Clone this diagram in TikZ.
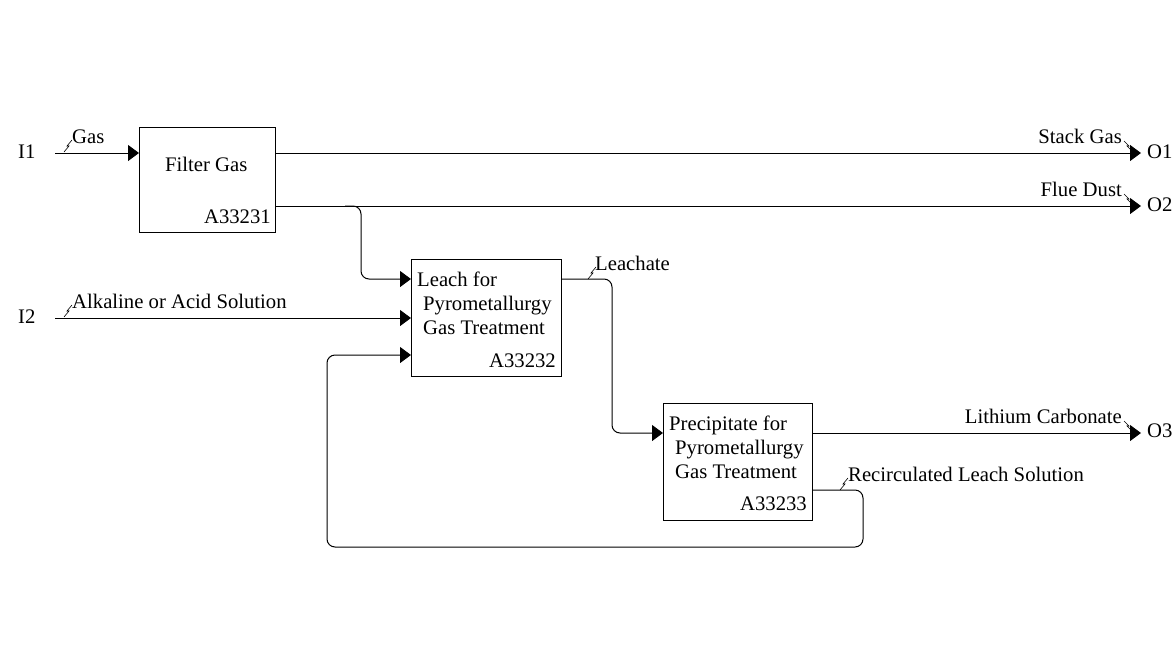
\documentclass[tikz,border=0pt]{standalone}
\usepackage{fontspec}
\setmainfont{Liberation Serif}
\usetikzlibrary{arrows.meta}

\begin{document}
\begin{tikzpicture}[x=1pt,y=-1pt]
        \tikzstyle{every node}=[font=\fontsize{20.7}{24}\selectfont,inner sep=0pt]
        \tikzstyle{box}=[draw,line width=1pt,anchor=north west]
        \tikzstyle{flow}=[line width=1pt,rounded corners=8pt,-{Triangle[length=11pt,width=16pt]}]
        \tikzstyle{squig}=[line width=0.6pt]
            \useasboundingbox (0,0) rectangle (1176,654);

            \node[box,minimum width=136pt,minimum height=105pt] (f) at (139,127) {};
            \node[box,minimum width=150pt,minimum height=117pt] (l) at (411,259) {};
            \node[box,minimum width=149pt,minimum height=117pt] (p) at (663,403) {};

            \coordinate (i1) at (55,153);
            \coordinate (i2) at (55,318);
            \coordinate (o1) at (1141,153);
            \coordinate (o2) at (1141,206);
            \coordinate (o3) at (1141,433);
            \coordinate (j) at (345,206);
            \coordinate (b1) at (361,279);
            \coordinate (b2) at (612,433);
            \coordinate (r) at (812,490);
            \coordinate (b3) at (863,547);
            \coordinate (b4) at (327,355);

            \draw[flow] (i1) -- (f.west |- i1);
            \draw[flow] (i2) -- (l.west |- i2);
            \draw[flow] (f.east |- o1) -- (o1);
            \draw[flow] (f.east |- o2) -- (o2);
            \draw[flow] (j) -| (b1) -- (l.west |- b1);
            \draw[flow] (l.east |- b1) -| (b2) -- (p.west |- b2);
            \draw[flow] (p.east |- o3) -- (o3);
            \draw[flow] (r) -| (b3) -| (b4) -- (l.west |- b4);

            % labels
            \node[anchor=base west] (ti1) at (18,158) {I1};
            \node[anchor=base west] (ti2) at (18,323) {I2};
            \node[anchor=base west] (to1) at (1147,158) {O1};
            \node[anchor=base west] (to2) at (1147,211) {O2};
            \node[anchor=base west] (to3) at (1147,437) {O3};
            \node[anchor=base west] (gas) at (72,143) {Gas};
            \node[anchor=base west] (sol) at (72,308) {Alkaline or Acid Solution};
            \node[anchor=base east] (stack) at (1122,143) {Stack Gas};
            \node[anchor=base east] (dust) at (1122,196) {Flue Dust};
            \node[anchor=base east] (li) at (1122,423) {Lithium Carbonate};
            \node[anchor=base west] (lea) at (595,270) {Leachate};
            \node[anchor=base west] (rec) at (848,481) {Recirculated Leach Solution};

            \node[anchor=base west] (f1) at (165,171) {Filter Gas};
            \node[anchor=base east] (f2) at (271,223) {A33231};
            \node[anchor=base west] (l1) at (417,286) {Leach for};
            \node[anchor=base west] (l2) at (423,310) {Pyrometallurgy};
            \node[anchor=base west] (l3) at (423,334) {Gas Treatment};
            \node[anchor=base east] (l4) at (556,367) {A33232};
            \node[anchor=base west] (p1) at (669,430) {Precipitate for};
            \node[anchor=base west] (p2) at (675,454) {Pyrometallurgy};
            \node[anchor=base west] (p3) at (675,478) {Gas Treatment};
            \node[anchor=base east] (p4) at (807,510) {A33233};

            \draw[squig] (64,152) -- (69,146) -- (67,146) -- (72,140)
            (64,317) -- (69,311) -- (67,311) -- (72,305)
            (588,279) -- (593,273) -- (591,273) -- (596,267)
            (840,490) -- (845,484) -- (843,484) -- (848,478)
            (1124,141) -- (1129,146) -- (1127,146) -- (1133,152)
            (1124,194) -- (1129,199) -- (1127,199) -- (1133,205)
            (1124,421) -- (1129,426) -- (1127,426) -- (1133,432)
            ;
        \end{tikzpicture}
\end{document}
